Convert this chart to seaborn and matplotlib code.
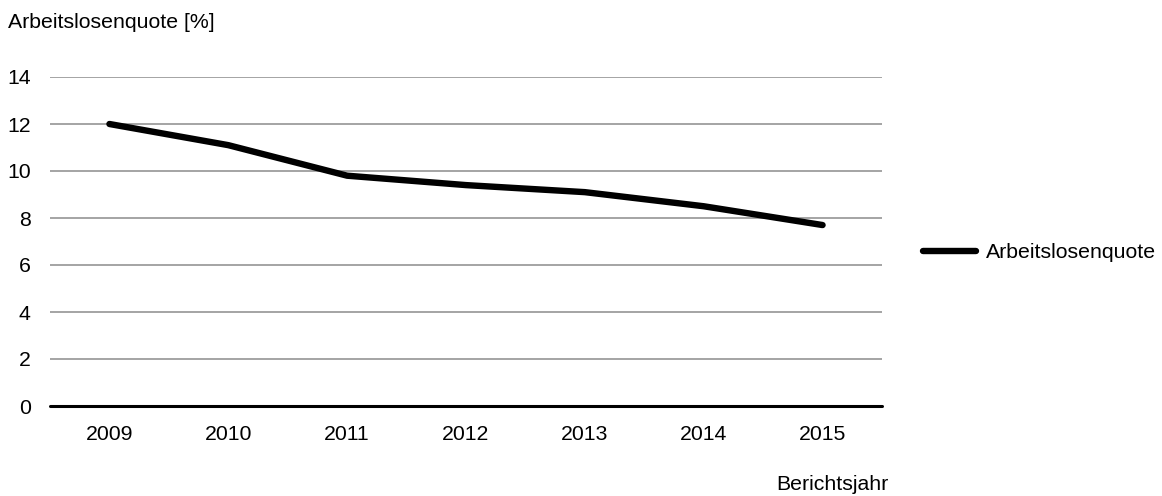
import matplotlib
matplotlib.use("Agg")
import matplotlib.pyplot as plt
import seaborn as sns
import pandas as pd

years = ["2009", "2010", "2011", "2012", "2013", "2014", "2015"]
quote = [12.0, 11.1, 9.8, 9.4, 9.1, 8.5, 7.7]
series_name = "Arbeitslosenquote"
y_title = "Arbeitslosenquote [%]"
x_title = "Berichtsjahr"
y_ticks = [0, 2, 4, 6, 8, 10, 12, 14]

sns.set_style("white")
plt.rcParams["font.family"] = ["Liberation Sans", "DejaVu Sans"]
plt.rcParams["text.color"] = "black"

FS = 15.3

df = pd.DataFrame({"Jahr": years, "Quote": quote, "Reihe": series_name})

fig = plt.figure(figsize=(11.62, 4.96), dpi=100)
ax = fig.add_axes([50 / 1162, 90 / 496, 832 / 1162, 329 / 496])

for v in y_ticks[1:]:
    ax.axhline(v, color="#8c8c8c", linewidth=1.1, zorder=1)

sns.lineplot(data=df, x="Jahr", y="Quote", hue="Reihe", palette=["black"],
             linewidth=4.6, sort=False, ax=ax, zorder=3,
             solid_capstyle="round", solid_joinstyle="round")

ax.axhline(0, color="black", linewidth=2.2, zorder=2, clip_on=False)

ax.set_xlim(-0.5, len(years) - 0.5)
ax.set_ylim(0, 14)
ax.set_yticks(y_ticks)
ax.set_yticklabels([str(v) for v in y_ticks])
ax.tick_params(axis="y", length=0, pad=14, labelsize=FS, colors="black")
ax.tick_params(axis="x", length=0, pad=14, labelsize=FS, colors="black")
ax.set_xlabel("")
ax.set_ylabel("")
for s in ax.spines.values():
    s.set_visible(False)

fig.text(8 / 1162, 1 - 22 / 496, y_title, ha="left", va="center", fontsize=FS, color="black")
fig.text(888 / 1162, 1 - 484 / 496, x_title, ha="right", va="center", fontsize=FS, color="black")

leg = ax.legend(loc="center left", bbox_to_anchor=(923 / 1162, 1 - 253 / 496),
                bbox_transform=fig.transFigure, frameon=False, fontsize=FS,
                handlelength=2.5, handletextpad=0.45, borderpad=0, borderaxespad=0)
for h in leg.get_lines():
    h.set_linewidth(4.6)
    h.set_solid_capstyle("round")
for t in leg.get_texts():
    t.set_color("black")

fig.savefig("out.png", dpi=100)
